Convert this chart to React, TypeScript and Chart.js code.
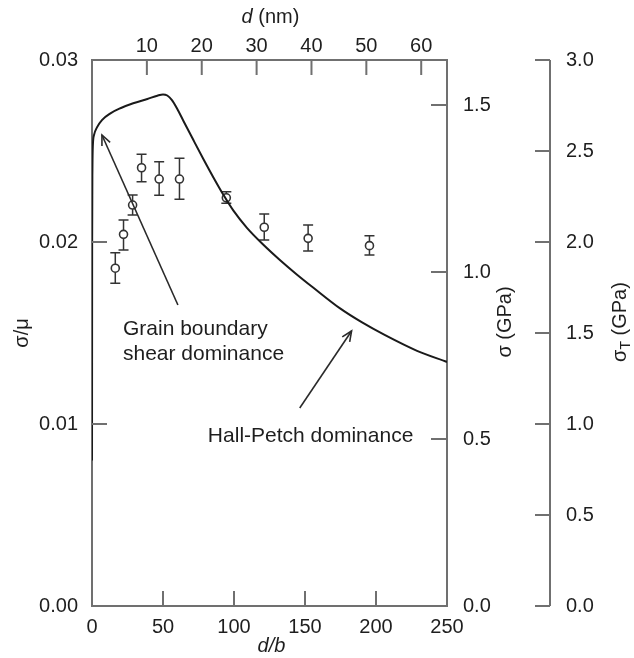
import React, { useEffect, useRef } from "react";
import { Chart, registerables } from "chart.js";

Chart.register(...registerables);

// ---- data ----
// model curve: d/b vs sigma/mu
const curveX = [0, 0.1, 0.3, 0.6, 1.5, 3.5, 7, 13, 20, 29, 39, 46, 50, 53, 56.3, 59.8, 64.4, 71.4, 78.5, 85.5, 92.5, 99.6, 109.1, 120.7, 132.5, 144.2, 155.7, 174.7, 190.2, 206.4, 228.9, 250];
const curveY = [0.008, 0.02, 0.024, 0.0253, 0.0259, 0.0263, 0.0267, 0.02707, 0.02735, 0.02762, 0.02786, 0.02804, 0.02811, 0.02805, 0.0278, 0.02735, 0.02665, 0.0256, 0.02455, 0.02355, 0.0226, 0.02172, 0.02078, 0.01985, 0.019, 0.01822, 0.0175, 0.01635, 0.01558, 0.01488, 0.01402, 0.01341];

// measured points with error bars
const pointX = [16.4, 22.2, 28.6, 34.9, 47.3, 61.6, 94.6, 121.3, 152.2, 195.4];
const pointY = [0.01856, 0.02042, 0.02203, 0.02408, 0.02346, 0.02346, 0.02243, 0.02081, 0.0202, 0.0198];
const errLow = [0.01773, 0.01956, 0.02148, 0.02331, 0.02257, 0.02235, 0.02213, 0.02011, 0.0195, 0.01929];
const errHigh = [0.01941, 0.02121, 0.02258, 0.02482, 0.02441, 0.0246, 0.02276, 0.02154, 0.02093, 0.02035];

// axes
const xTicks = [0, 50, 100, 150, 200, 250];
const dNmTicks = [10, 20, 30, 40, 50, 60];
const yTicks = [0, 0.01, 0.02, 0.03];
const sigmaTicks = [0, 0.5, 1.0, 1.5];
const sigmaTTicks = [0, 0.5, 1.0, 1.5, 2.0, 2.5, 3.0];
const X_MAX = 250;
const Y_MAX = 0.03;
const BURGERS_NM = 0.2588;
const SHEAR_MOD_GPA = 54.5;
const SIGMA_T_MAX = 3.0;

// annotations (data coordinates)
const gbTextLines = ["Grain boundary", "shear dominance"];
const gbTextX = 21.8;
const gbTextY = [0.01489, 0.01352];
const gbArrow = { x0: 60.5, y0: 0.01654, x1: 7.0, y1: 0.02588 };
const hpText = "Hall-Petch dominance";
const hpTextX = 81.6;
const hpTextY = 0.00901;
const hpArrow = { x0: 146.3, y0: 0.01088, x1: 182.8, y1: 0.01511 };

const FONT = "'Liberation Sans', Arial, Helvetica, sans-serif";
const AXIS_COLOR = "#707070";
const TEXT_COLOR = "#1e1e1e";

function fixSize(w: number | null, h: number | null) {
  return (s: any) => {
    if (w !== null) s.width = w;
    if (h !== null) s.height = h;
    s.paddingLeft = 0;
    s.paddingRight = 0;
    s.paddingTop = 0;
    s.paddingBottom = 0;
  };
}

function setTicks(vals: number[]) {
  return (s: any) => {
    s.ticks = vals.map((v) => ({ value: v }));
  };
}

function arrow(ctx: CanvasRenderingContext2D, x0: number, y0: number, x1: number, y1: number) {
  ctx.beginPath();
  ctx.moveTo(x0, y0);
  ctx.lineTo(x1, y1);
  ctx.stroke();
  const a = Math.atan2(y1 - y0, x1 - x0);
  const len = 11;
  const spread = 0.42;
  ctx.beginPath();
  ctx.moveTo(x1 - len * Math.cos(a - spread), y1 - len * Math.sin(a - spread));
  ctx.lineTo(x1, y1);
  ctx.lineTo(x1 - len * Math.cos(a + spread), y1 - len * Math.sin(a + spread));
  ctx.stroke();
}

const customPlugin = {
  id: "customDraw",
  beforeDatasetsDraw(chart: any) {
    const ctx = chart.ctx as CanvasRenderingContext2D;
    const xs = chart.scales.x;
    const ys = chart.scales.y;
    ctx.save();
    ctx.strokeStyle = "#333";
    ctx.lineWidth = 1.5;
    for (let i = 0; i < pointX.length; i++) {
      const px = xs.getPixelForValue(pointX[i]);
      const lo = ys.getPixelForValue(errLow[i]);
      const hi = ys.getPixelForValue(errHigh[i]);
      ctx.beginPath();
      ctx.moveTo(px, lo);
      ctx.lineTo(px, hi);
      ctx.moveTo(px - 5, lo);
      ctx.lineTo(px + 5, lo);
      ctx.moveTo(px - 5, hi);
      ctx.lineTo(px + 5, hi);
      ctx.stroke();
    }
    ctx.restore();
  },
  afterDraw(chart: any) {
    const ctx = chart.ctx as CanvasRenderingContext2D;
    const { x, x2, y, y2, y3 } = chart.scales;
    const area = chart.chartArea;
    ctx.save();
    // inward ticks
    ctx.strokeStyle = AXIS_COLOR;
    ctx.lineWidth = 2;
    ctx.beginPath();
    xTicks.forEach((v) => {
      const p = x.getPixelForValue(v);
      ctx.moveTo(p, area.bottom);
      ctx.lineTo(p, area.bottom - 15);
    });
    dNmTicks.forEach((v) => {
      const p = x2.getPixelForValue(v);
      ctx.moveTo(p, area.top);
      ctx.lineTo(p, area.top + 15);
    });
    yTicks.forEach((v) => {
      const p = y.getPixelForValue(v);
      ctx.moveTo(area.left, p);
      ctx.lineTo(area.left + 15, p);
    });
    sigmaTicks.forEach((v) => {
      const p = y2.getPixelForValue(v);
      ctx.moveTo(area.right, p);
      ctx.lineTo(area.right - 16, p);
    });
    // sigma_T axis: line + ticks to the left
    const axX = y3.left + 8;
    ctx.moveTo(axX, y3.getPixelForValue(0));
    ctx.lineTo(axX, y3.getPixelForValue(SIGMA_T_MAX));
    sigmaTTicks.forEach((v) => {
      const p = y3.getPixelForValue(v);
      ctx.moveTo(axX, p);
      ctx.lineTo(axX - 15, p);
    });
    ctx.stroke();

    // titles
    ctx.fillStyle = TEXT_COLOR;
    ctx.textBaseline = "middle";
    ctx.textAlign = "center";
    const midY = (area.top + area.bottom) / 2;
    // left
    ctx.save();
    ctx.translate(22, midY);
    ctx.rotate(-Math.PI / 2);
    ctx.font = `20px ${FONT}`;
    ctx.fillText("σ/μ", 0, 0);
    ctx.restore();
    // bottom
    ctx.font = `italic 20px ${FONT}`;
    ctx.fillText("d/b", (area.left + area.right) / 2 + 2, area.bottom + 40);
    // top: d (nm)
    {
      const cx = (area.left + area.right) / 2 + 1;
      const cy = 17;
      ctx.font = `italic 20px ${FONT}`;
      const w1 = ctx.measureText("d").width;
      ctx.font = `20px ${FONT}`;
      const w2 = ctx.measureText(" (nm)").width;
      const start = cx - (w1 + w2) / 2;
      ctx.textAlign = "left";
      ctx.font = `italic 20px ${FONT}`;
      ctx.fillText("d", start, cy);
      ctx.font = `20px ${FONT}`;
      ctx.fillText(" (nm)", start + w1, cy);
      ctx.textAlign = "center";
    }
    // sigma (GPa)
    ctx.save();
    ctx.translate(y2.left + 58, midY - 11);
    ctx.rotate(-Math.PI / 2);
    ctx.font = `20px ${FONT}`;
    ctx.fillText("σ (GPa)", 0, 0);
    ctx.restore();
    // sigma_T (GPa)
    ctx.save();
    ctx.translate(y3.left + 78, midY - 11);
    ctx.rotate(-Math.PI / 2);
    ctx.font = `20px ${FONT}`;
    const wS = ctx.measureText("σ").width;
    ctx.font = `14px ${FONT}`;
    const wT = ctx.measureText("T").width;
    ctx.font = `20px ${FONT}`;
    const wG = ctx.measureText(" (GPa)").width;
    const total = wS + wT + wG;
    let sx = -total / 2;
    ctx.textAlign = "left";
    ctx.fillText("σ", sx, 0);
    sx += wS;
    ctx.font = `14px ${FONT}`;
    ctx.fillText("T", sx, 6);
    sx += wT;
    ctx.font = `20px ${FONT}`;
    ctx.fillText(" (GPa)", sx, 0);
    ctx.restore();

    // annotations
    ctx.textAlign = "left";
    ctx.textBaseline = "alphabetic";
    ctx.font = `21px ${FONT}`;
    gbTextLines.forEach((t, i) => {
      ctx.fillText(t, x.getPixelForValue(gbTextX), y.getPixelForValue(gbTextY[i]));
    });
    ctx.fillText(hpText, x.getPixelForValue(hpTextX), y.getPixelForValue(hpTextY));
    ctx.strokeStyle = "#2a2a2a";
    ctx.lineWidth = 1.6;
    arrow(ctx, x.getPixelForValue(gbArrow.x0), y.getPixelForValue(gbArrow.y0), x.getPixelForValue(gbArrow.x1), y.getPixelForValue(gbArrow.y1));
    arrow(ctx, x.getPixelForValue(hpArrow.x0), y.getPixelForValue(hpArrow.y0), x.getPixelForValue(hpArrow.x1), y.getPixelForValue(hpArrow.y1));
    ctx.restore();
  },
};

export default function App() {
  const ref = useRef<HTMLCanvasElement | null>(null);
  useEffect(() => {
    if (!ref.current) return;
    const tickFont = { family: FONT, size: 20 };
    const chart = new Chart(ref.current, {
      type: "scatter",
      data: {
        datasets: [
          {
            type: "line",
            label: "model",
            data: curveX.map((v, i) => ({ x: v, y: curveY[i] })),
            borderColor: "#1a1a1a",
            borderWidth: 2,
            pointRadius: 0,
            fill: false,
            cubicInterpolationMode: "monotone",
            xAxisID: "x",
            yAxisID: "y",
          } as any,
          {
            type: "scatter",
            label: "data",
            data: pointX.map((v, i) => ({ x: v, y: pointY[i] })),
            pointStyle: "circle",
            pointRadius: 4,
            pointBorderWidth: 1.6,
            borderColor: "#333",
            backgroundColor: "#fff",
            pointBackgroundColor: "#fff",
            pointBorderColor: "#333",
            xAxisID: "x",
            yAxisID: "y",
          } as any,
        ],
      },
      options: {
        animation: false,
        responsive: true,
        maintainAspectRatio: false,
        devicePixelRatio: 1,
        layout: { padding: 0, autoPadding: false } as any,
        plugins: { legend: { display: false }, tooltip: { enabled: false } },
        scales: {
          x: {
            type: "linear",
            position: "bottom",
            min: 0,
            max: X_MAX,
            grid: { display: false },
            border: { display: true, color: AXIS_COLOR, width: 2 },
            ticks: { font: tickFont, color: TEXT_COLOR, padding: 1, maxRotation: 0, autoSkip: false, callback: (v: any) => String(v) },
            afterBuildTicks: setTicks(xTicks),
            afterFit: fixSize(null, 52),
          },
          x2: {
            type: "linear",
            position: "top",
            min: 0,
            max: X_MAX * BURGERS_NM,
            grid: { display: false },
            border: { display: true, color: AXIS_COLOR, width: 2 },
            ticks: { font: tickFont, color: TEXT_COLOR, padding: -6, maxRotation: 0, autoSkip: false, callback: (v: any) => String(v) },
            afterBuildTicks: setTicks(dNmTicks),
            afterFit: fixSize(null, 60),
          },
          y: {
            type: "linear",
            position: "left",
            min: 0,
            max: Y_MAX,
            grid: { display: false },
            border: { display: true, color: AXIS_COLOR, width: 2 },
            ticks: { font: tickFont, color: TEXT_COLOR, padding: 6, autoSkip: false, callback: (v: any) => Number(v).toFixed(2) },
            afterBuildTicks: setTicks(yTicks),
            afterFit: fixSize(92, null),
          },
          y2: {
            type: "linear",
            position: "right",
            min: 0,
            max: Y_MAX * SHEAR_MOD_GPA,
            grid: { display: false },
            border: { display: true, color: AXIS_COLOR, width: 2 },
            ticks: { font: tickFont, color: TEXT_COLOR, padding: 8, autoSkip: false, callback: (v: any) => Number(v).toFixed(1) },
            afterBuildTicks: setTicks(sigmaTicks),
            afterFit: fixSize(95, null),
          },
          y3: {
            type: "linear",
            position: "right",
            min: 0,
            max: SIGMA_T_MAX,
            grid: { display: false },
            border: { display: false },
            ticks: { font: tickFont, color: TEXT_COLOR, padding: 16, autoSkip: false, callback: (v: any) => Number(v).toFixed(1) },
            afterBuildTicks: setTicks(sigmaTTicks),
            afterFit: fixSize(92, null),
          },
        },
      } as any,
      plugins: [customPlugin],
    });
    return () => chart.destroy();
  }, []);
  return (
    <div style={{ position: "fixed", left: 0, top: 0, width: 634, height: 658, background: "#fff" }}>
      <canvas ref={ref} />
    </div>
  );
}
